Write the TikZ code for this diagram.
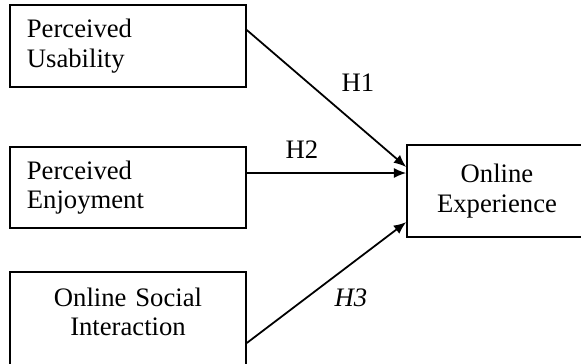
\documentclass[tikz,border=0pt]{standalone}
\usepackage{fontspec}
\setmainfont{Liberation Serif}
\usetikzlibrary{arrows.meta}

\begin{document}
\begin{tikzpicture}[x=0.45pt,y=-0.45pt,
        font=\fontsize{12}{13.3}\selectfont,
        box/.style={draw,line width=0.7pt,minimum width=106.2pt,inner xsep=7.6pt,text width=91pt},
        arr/.style={-{Latex[length=5.6pt,width=4.6pt]},line width=0.8pt}]
            \useasboundingbox (0,0) rectangle (581,363);
            \clip (0,0) rectangle (581,363);

            \node[box,align=left,minimum height=36.9pt] (pu) at (128,46) {Perceived\\Usability};
            \node[box,align=left,minimum height=36.5pt] (pe) at (128,187.5) {Perceived\\Enjoyment};
            \node[box,align=center,anchor=north,inner ysep=7.2pt,text depth=24pt] (osi) at (128,271) {Online Social\\Interaction};
            \node[draw,line width=0.7pt,align=center,minimum width=81pt,minimum height=41.4pt] (oe) at (497,191) {Online\\Experience};

            \coordinate (h2end) at ([yshift=8.1pt]oe.west);
            \draw[arr] ([yshift=7.2pt]pu.east) -- ([yshift=10.8pt]oe.west);
            \draw[arr] (pe.east |- h2end) -- (h2end);
            \draw[arr] ([yshift=-32.4pt]osi.north east) -- ([yshift=-14pt]oe.west);

            \node (h1) at (358,83) {H1};
            \node (h2) at (302,150) {H2};
            \node (h3) at (351,298) {\itshape H3};
        \end{tikzpicture}
\end{document}
